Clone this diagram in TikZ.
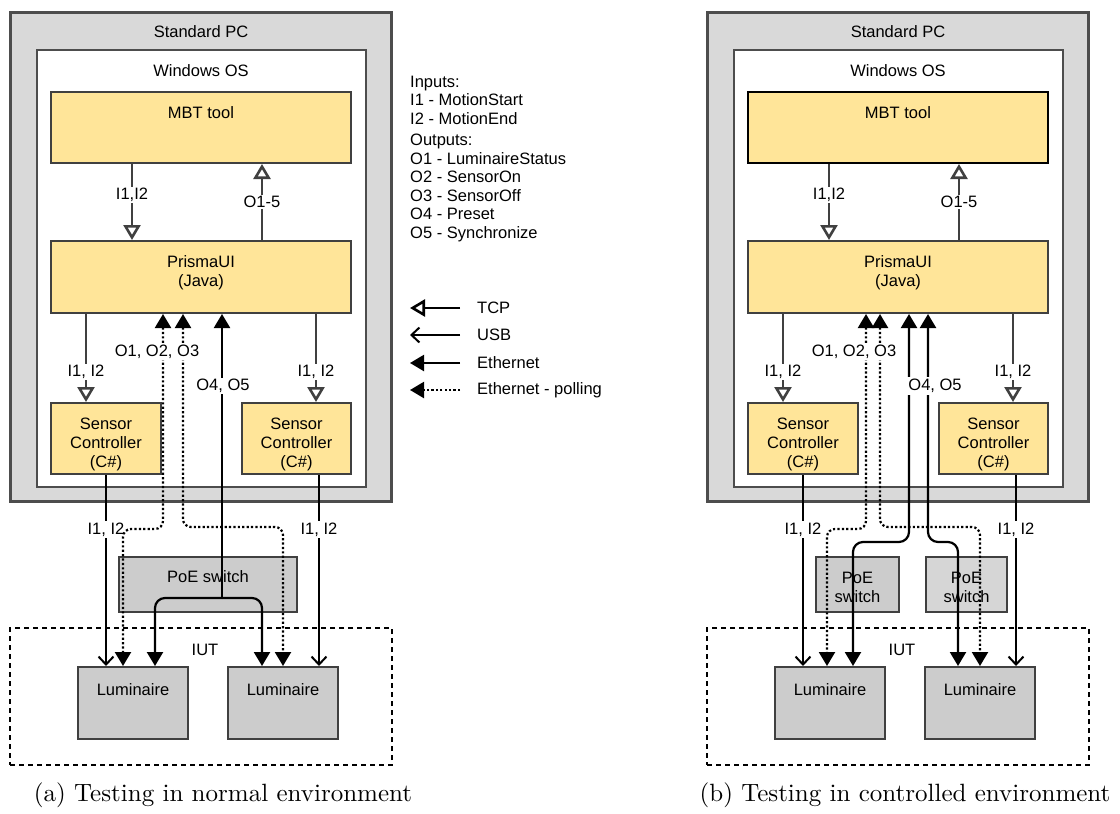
\documentclass[tikz,border=0pt]{standalone}
\usepackage{fontspec}
\newfontfamily\arialf{Liberation Sans}
\usetikzlibrary{arrows.meta,calc}
\definecolor{yel}{HTML}{FFE599}
\definecolor{pcg}{HTML}{D9D9D9}
\definecolor{boxg}{HTML}{CCCCCC}
\definecolor{boxgl}{HTML}{D6D6D6}
\definecolor{bord}{HTML}{404040}
\definecolor{pcbord}{HTML}{4D4D4D}
\tikzset{
  every node/.style={font=\arialf\fontsize{16.5}{19}\selectfont, inner sep=0pt},
  pcbox/.style={draw=pcbord, fill=pcg, line width=3pt},
  osbox/.style={draw=pcbord, fill=white, line width=2.5pt},
  comp/.style={draw=bord, fill=yel, line width=2pt},
  grayb/.style={draw=bord, fill=boxg, line width=2pt},
  iutbox/.style={draw=black, line width=2.2pt, dash pattern=on 5pt off 4pt},
  lbl/.style={fill=white, inner sep=1.5pt},
  tcptip/.tip={Triangle[open, length=15pt, width=17pt, line width=2.6pt]},
  ethtip/.tip={Triangle[length=14pt, width=16pt]},
  usbtip/.tip={Straight Barb[length=8pt, width=15pt, line width=2pt]},
  tcp/.style={draw=bord, line width=2pt, -tcptip},
  eth/.style={draw=black, line width=2.2pt},
  poll/.style={draw=black, line width=2.2pt, dash pattern=on 2.2pt off 2.2pt},
  usb/.style={draw=black, line width=2pt, -usbtip},
  capt/.style={scale=2.5, font=\normalfont\rmfamily\fontsize{10}{12}\selectfont},
}
\newcommand{\panelboxes}[2]{%
  \node[pcbox, minimum width=381, minimum height=489] (#1pc) at (200.5,256.5) {};
  \node (#1pctxt) at (201,32) {Standard PC};
  \node[osbox, minimum width=329, minimum height=437] (#1os) at (201.5,268.5) {};
  \node (#1ostxt) at (201,71) {Windows OS};
  \node[comp, draw=#2, minimum width=300, minimum height=71] (#1mbt) at (201,127.5) {};
  \node (#1mbttxt) at (201,113) {MBT tool};
  \node[comp, minimum width=300, minimum height=72] (#1pr) at (201,277) {};
  \node[align=center] (#1prtxt) at (201,273) {PrismaUI\\(Java)};
  \node[comp, minimum width=110, minimum height=71] (#1scl) at (106,438.5) {};
  \node[align=center] (#1scltxt) at (106,444) {Sensor\\Controller\\(C\#)};
  \node[comp, minimum width=109, minimum height=71] (#1scr) at (296.5,438.5) {};
  \node[align=center] (#1scrtxt) at (296.5,444) {Sensor\\Controller\\(C\#)};
  \node[iutbox, minimum width=382, minimum height=137] (#1iut) at (201,696.5) {};
  \node (#1iuttxt) at (205,650) {IUT};
  \node[grayb, minimum width=110, minimum height=72] (#1luml) at (133,703) {};
  \node (#1lumltxt) at (133,690) {Luminaire};
  \node[grayb, minimum width=110, minimum height=72] (#1lumr) at (283,703) {};
  \node (#1lumrtxt) at (283,690) {Luminaire};
}
\newcommand{\panellines}[1]{%
  \draw[tcp] (#1mbt.south -| 132,0) -- (#1pr.north -| 132,0)
     node[lbl, pos=0.41] (#1l1) {I1,I2};
  \draw[tcp] (#1pr.north -| 262,0) -- (#1mbt.south -| 262,0)
     node[lbl, pos=0.5] (#1l2) {O1-5};
  \draw[tcp] (#1pr.south -| 86,0) -- (#1scl.north -| 86,0)
     node[lbl, pos=0.66] (#1l3) {I1, I2};
  \draw[tcp] (#1pr.south -| 316,0) -- (#1scr.north -| 316,0)
     node[lbl, pos=0.66] (#1l4) {I1, I2};
  \draw[usb] (#1scl.south -| 106,0) -- (#1luml.north -| 106,0)
     node[lbl, pos=0.285] (#1l5) {I1, I2};
  \draw[usb] (#1scr.south -| 319,0) -- (#1lumr.north -| 319,0)
     node[lbl, pos=0.285] (#1l6) {I1, I2};
}
\begin{document}
\begin{tikzpicture}[x=1pt, y=-1pt]
\useasboundingbox (0,0) rectangle (1120,814);

% ---------------- panel (a)
\panelboxes{a}{bord}
\node[grayb, minimum width=178, minimum height=55] (apoe) at (208,584.5) {};
\node (apoetxt) at (208,577) {PoE switch};
\panellines{a}
\draw[poll, ethtip-ethtip, rounded corners=8pt] (apr.south -| 163,0) -- (163,529) -- (123,529) -- (aluml.north -| 123,0);
\draw[poll, ethtip-ethtip, rounded corners=8pt] (apr.south -| 183,0) -- (183,527) -- (283,527) -- (alumr.north -| 283,0);
\node[lbl] (ao13) at (157,352) {O1, O2, O3};
\draw[eth, ethtip-] (apr.south -| 222,0) -- (222,598) coordinate (asplit);
\draw[eth, -ethtip, rounded corners=10pt] (asplit) -- (155,598) -- (aluml.north -| 155,0);
\draw[eth, -ethtip, rounded corners=10pt] (asplit) -- (262,598) -- (alumr.north -| 262,0);
\node[lbl] (ao45) at (223,386) {O4, O5};

% ---------------- panel (b)
\begin{scope}[xshift=697pt]
\panelboxes{b}{black}
\node[grayb, minimum width=83, minimum height=55] (bpoe1) at (160.5,584.5) {};
\node[align=center] (bpoe1txt) at (160.5,587.5) {PoE\\switch};
\node[grayb, fill=boxgl, minimum width=81, minimum height=55] (bpoe2) at (269.5,584.5) {};
\node[align=center] (bpoe2txt) at (269.5,587.5) {PoE\\switch};
\panellines{b}
\draw[poll, ethtip-ethtip, rounded corners=8pt] (bpr.south -| 169,0) -- (169,529) -- (130,529) -- (bluml.north -| 130,0);
\draw[poll, ethtip-ethtip, rounded corners=8pt] (bpr.south -| 183,0) -- (183,527) -- (283,527) -- (blumr.north -| 283,0);
\node[lbl] (bo13) at (157,352) {O1, O2, O3};
\draw[eth, ethtip-ethtip, rounded corners=10pt] (bpr.south -| 212,0) -- (212,542) -- (156,542) -- (bluml.north -| 156,0);
\draw[eth, ethtip-ethtip, rounded corners=10pt] (bpr.south -| 231,0) -- (231,542) -- (261,542) -- (blumr.north -| 261,0);
\node[lbl, inner sep=2.5pt] (bo45) at (238,386) {O4, O5};
\end{scope}

% ---------------- legend
\node[anchor=north west, align=left, font=\arialf\fontsize{16.5}{18.5}\selectfont] (inputs) at (410,75.5)
  {Inputs:\\I1 - MotionStart\\I2 - MotionEnd};
\node[anchor=north west, align=left, font=\arialf\fontsize{16.5}{18.5}\selectfont] (outputs) at (410,134)
  {Outputs:\\O1 - LuminaireStatus\\O2 - SensorOn\\O3 - SensorOff\\O4 - Preset\\O5 - Synchronize};
\node[anchor=west] (ltcp) at (477,308) {TCP};
\node[anchor=west] (lusb) at (477,335) {USB};
\node[anchor=west] (leth) at (477,363) {Ethernet};
\node[anchor=west] (lpoll) at (477,390) {Ethernet - polling};
\coordinate (ltcpa) at (410,308);
\coordinate (lusba) at (410,335);
\coordinate (letha) at (410,363);
\coordinate (lpolla) at (410,390);
\draw[draw=black, line width=2pt, -tcptip] ($(ltcp.west)+(-17,0)$) -- (ltcpa);
\draw[usb] ($(lusb.west)+(-17,0)$) -- (lusba);
\draw[eth, -ethtip] ($(leth.west)+(-17,0)$) -- (letha);
\draw[poll, -ethtip] ($(lpoll.west)+(-17,0)$) -- (lpolla);

% ---------------- captions
\node[capt] (capa) at (223,795) {(a) Testing in normal environment};
\node[capt] (capb) at (905,795) {(b) Testing in controlled environment};
\end{tikzpicture}
\end{document}
